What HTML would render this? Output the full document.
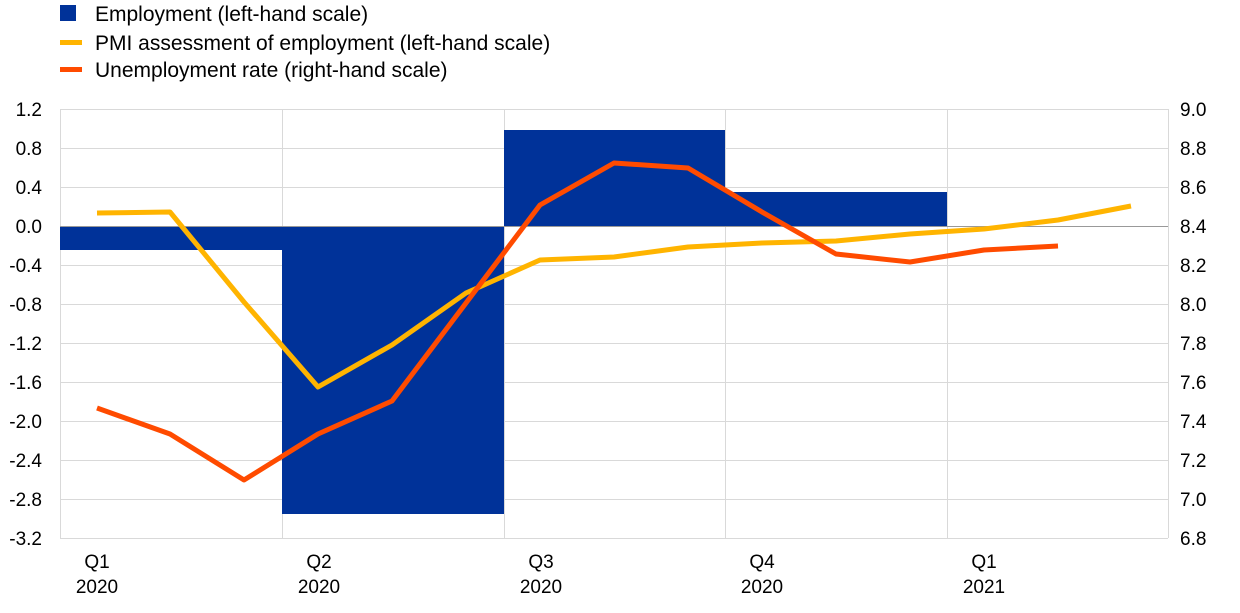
<!DOCTYPE html>
<html><head><meta charset="utf-8"><style>
body{margin:0;background:#fff;}
text{font-family:"Liberation Sans",Arial,sans-serif;font-size:19px;fill:#000;}
text.lg{font-size:21px;}
</style></head><body>
<svg width="1240" height="608" xmlns="http://www.w3.org/2000/svg">
<g stroke="#d9d9d9" stroke-width="1">
<line x1="60" y1="109.5" x2="1168" y2="109.5"/><line x1="60" y1="148.5" x2="1168" y2="148.5"/><line x1="60" y1="187.5" x2="1168" y2="187.5"/>
<line x1="60" y1="265.5" x2="1168" y2="265.5"/><line x1="60" y1="304.5" x2="1168" y2="304.5"/><line x1="60" y1="343.5" x2="1168" y2="343.5"/>
<line x1="60" y1="382.5" x2="1168" y2="382.5"/><line x1="60" y1="421.5" x2="1168" y2="421.5"/><line x1="60" y1="460.5" x2="1168" y2="460.5"/>
<line x1="60" y1="499.5" x2="1168" y2="499.5"/><line x1="60" y1="538.5" x2="1168" y2="538.5"/>
<line x1="60.5" y1="109" x2="60.5" y2="538"/><line x1="282.5" y1="109" x2="282.5" y2="538"/><line x1="504.5" y1="109" x2="504.5" y2="538"/>
<line x1="725.5" y1="109" x2="725.5" y2="538"/><line x1="947.5" y1="109" x2="947.5" y2="538"/><line x1="1168.5" y1="109" x2="1168.5" y2="538"/>
</g>
<g fill="#003299">
<rect x="60" y="226" width="222" height="24"/>
<rect x="282" y="226" width="222" height="288"/>
<rect x="504" y="130" width="221" height="96"/>
<rect x="725" y="192" width="222" height="34"/>
</g>
<line x1="60" y1="226.5" x2="1168" y2="226.5" stroke="#999" stroke-width="1"/>
<polyline fill="none" stroke="#ffb400" stroke-width="5" stroke-linejoin="round" points="97,213 170,212 244,302 318,387 392,345 466,293 540,260 614,257 688,247 762,243 836,241 910,234 984,229 1058,220 1131,206"/>
<polyline fill="none" stroke="#ff4b00" stroke-width="5" stroke-linejoin="round" points="97,408 170,434 244,480 318,434 392,401 466,303 540,205 614,163 688,168 762,212 836,254 910,262 984,250 1058,246"/>
<g text-anchor="end">
<text x="42" y="116">1.2</text><text x="42" y="155">0.8</text><text x="42" y="194">0.4</text><text x="42" y="233">0.0</text>
<text x="42" y="272">-0.4</text><text x="42" y="311">-0.8</text><text x="42" y="350">-1.2</text><text x="42" y="389">-1.6</text>
<text x="42" y="428">-2.0</text><text x="42" y="467">-2.4</text><text x="42" y="506">-2.8</text><text x="42" y="545">-3.2</text>
</g>
<g text-anchor="start">
<text x="1180" y="116">9.0</text><text x="1180" y="155">8.8</text><text x="1180" y="194">8.6</text><text x="1180" y="233">8.4</text>
<text x="1180" y="272">8.2</text><text x="1180" y="311">8.0</text><text x="1180" y="350">7.8</text><text x="1180" y="389">7.6</text>
<text x="1180" y="428">7.4</text><text x="1180" y="467">7.2</text><text x="1180" y="506">7.0</text><text x="1180" y="545">6.8</text>
</g>
<g text-anchor="middle">
<text x="97" y="568">Q1</text><text x="97" y="593">2020</text>
<text x="319" y="568">Q2</text><text x="319" y="593">2020</text>
<text x="541" y="568">Q3</text><text x="541" y="593">2020</text>
<text x="762" y="568">Q4</text><text x="762" y="593">2020</text>
<text x="984" y="568">Q1</text><text x="984" y="593">2021</text>
</g>
<rect x="60" y="5" width="16" height="16" fill="#003299"/>
<text class="lg" x="95" y="21">Employment (left-hand scale)</text>
<rect x="60" y="40" width="22" height="5" fill="#ffb400"/>
<text class="lg" x="95" y="50">PMI assessment of employment (left-hand scale)</text>
<rect x="60" y="67" width="22" height="5" fill="#ff4b00"/>
<text class="lg" x="95" y="77">Unemployment rate (right-hand scale)</text>
</svg>
</body></html>
